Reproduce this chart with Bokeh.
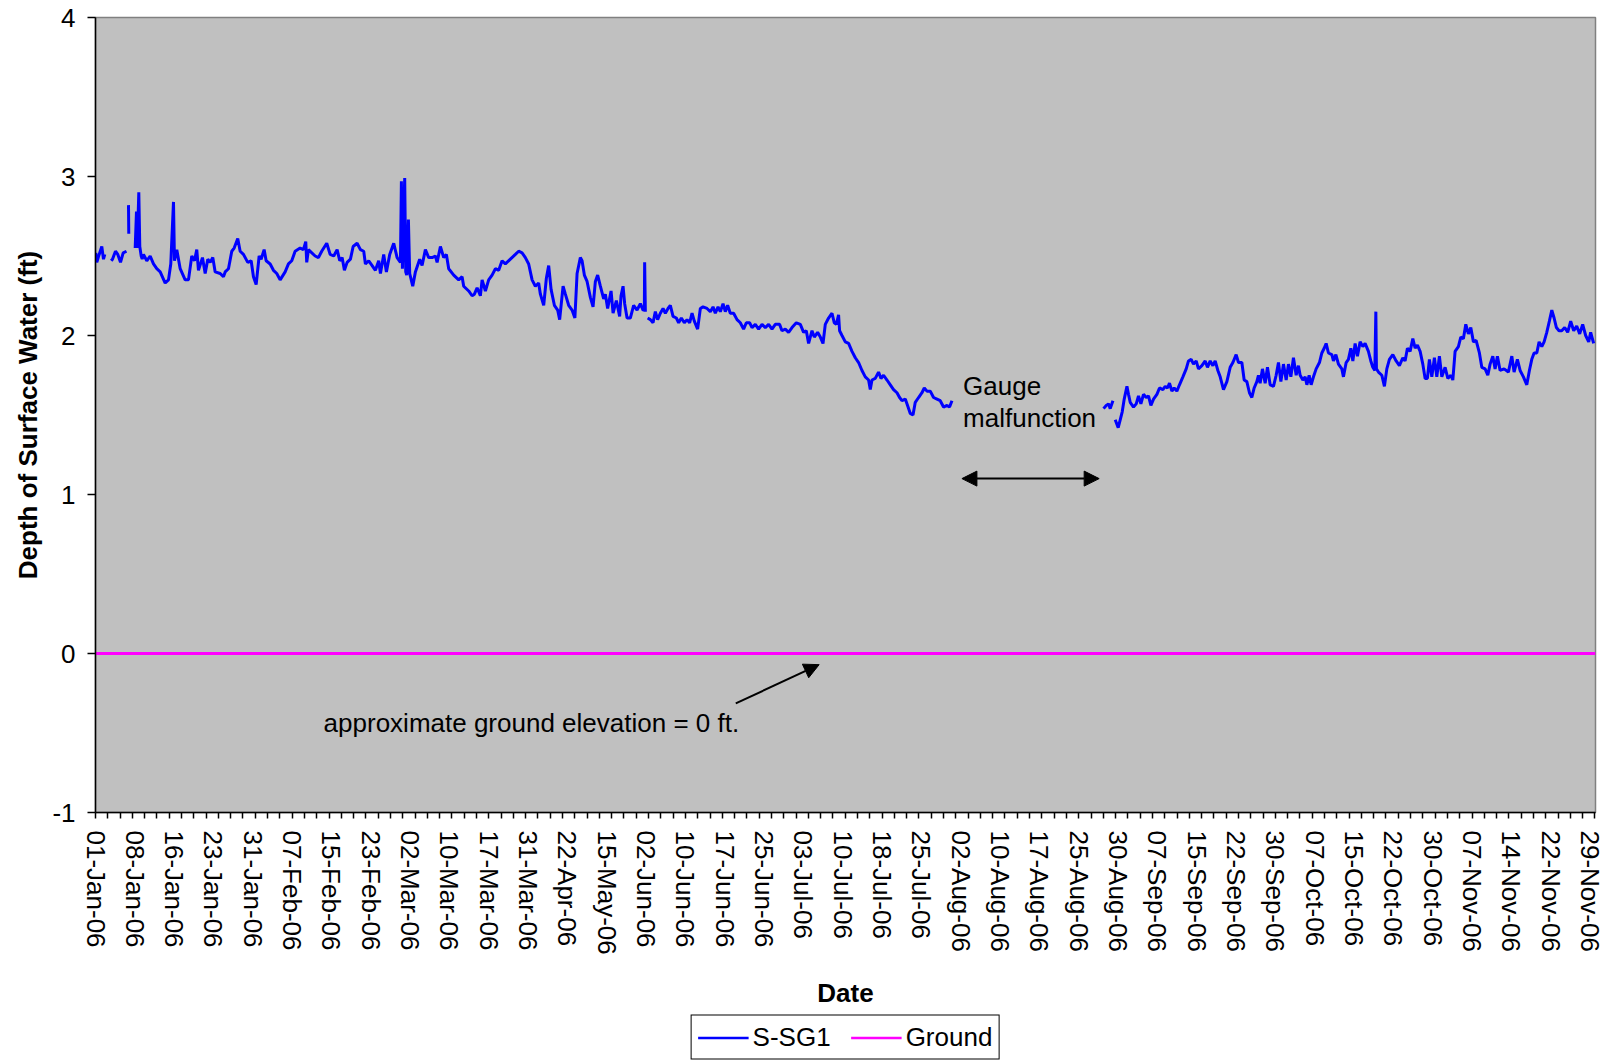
import math
from bokeh.plotting import figure
from bokeh.layouts import column
from bokeh.models import (Range1d, FixedTicker, Legend, LegendItem, Label,
                          Arrow, NormalHead)
from bokeh.embed import file_html
from bokeh.resources import INLINE

NAN = float("nan")

# Category-axis tick labels (one label every label-interval unit)
date_labels = ["01-Jan-06", "08-Jan-06", "16-Jan-06", "23-Jan-06", "31-Jan-06",
               "07-Feb-06", "15-Feb-06", "23-Feb-06", "02-Mar-06", "10-Mar-06",
               "17-Mar-06", "31-Mar-06", "22-Apr-06", "15-May-06", "02-Jun-06",
               "10-Jun-06", "17-Jun-06", "25-Jun-06", "03-Jul-06", "10-Jul-06",
               "18-Jul-06", "25-Jul-06", "02-Aug-06", "10-Aug-06", "17-Aug-06",
               "25-Aug-06", "30-Aug-06", "07-Sep-06", "15-Sep-06", "22-Sep-06",
               "30-Sep-06", "07-Oct-06", "15-Oct-06", "22-Oct-06", "30-Oct-06",
               "07-Nov-06", "14-Nov-06", "22-Nov-06", "29-Nov-06"]

# S-SG1 readings: (position on category axis, depth in ft); blanks = gaps
ssg1_seg1 = [(0.008, 2.52), (0.033, 2.46), (0.094, 2.51), (0.160, 2.56),
             (0.203, 2.48), (0.236, 2.51)]
ssg1_seg2 = [(0.399, 2.47), (0.432, 2.48), (0.508, 2.53), (0.567, 2.51),
             (0.636, 2.46), (0.704, 2.52), (0.788, 2.53)]
ssg1_seg3 = [(0.839, 2.82), (0.846, 2.64)]
ssg1_seg4 = [(1.009, 2.55), (1.042, 2.78), (1.060, 2.55), (1.101, 2.90), (1.126, 2.56),
             (1.162, 2.50), (1.187, 2.48), (1.220, 2.51), (1.304, 2.47), (1.390, 2.50),
             (1.474, 2.45), (1.558, 2.42), (1.645, 2.40), (1.772, 2.33), (1.856, 2.35),
             (1.914, 2.45), (1.983, 2.84), (2.008, 2.47), (2.067, 2.54), (2.153, 2.42),
             (2.280, 2.35), (2.364, 2.35), (2.448, 2.50), (2.517, 2.47), (2.575, 2.54),
             (2.618, 2.41), (2.720, 2.49), (2.789, 2.39), (2.855, 2.48), (2.916, 2.46),
             (2.982, 2.49), (3.043, 2.40), (3.170, 2.39), (3.254, 2.37), (3.297, 2.40),
             (3.381, 2.42), (3.465, 2.53), (3.526, 2.55), (3.617, 2.61), (3.678, 2.53),
             (3.762, 2.51), (3.871, 2.46), (3.958, 2.47), (4.016, 2.37), (4.085, 2.32),
             (4.161, 2.50), (4.212, 2.48), (4.288, 2.54), (4.339, 2.47), (4.441, 2.45),
             (4.525, 2.41), (4.609, 2.39), (4.695, 2.35), (4.822, 2.40), (4.906, 2.45),
             (4.990, 2.47), (5.076, 2.53), (5.203, 2.55), (5.287, 2.54), (5.346, 2.59),
             (5.371, 2.46), (5.414, 2.54), (5.585, 2.50), (5.669, 2.49), (5.752, 2.53),
             (5.880, 2.58), (5.966, 2.51), (6.058, 2.50), (6.144, 2.54), (6.210, 2.47),
             (6.271, 2.49), (6.329, 2.41), (6.398, 2.46), (6.482, 2.48), (6.551, 2.56),
             (6.652, 2.58), (6.736, 2.54), (6.820, 2.53), (6.863, 2.45), (6.947, 2.47),
             (7.034, 2.44), (7.117, 2.41), (7.201, 2.47), (7.245, 2.39), (7.328, 2.51),
             (7.397, 2.40), (7.481, 2.51), (7.583, 2.58), (7.669, 2.49), (7.753, 2.46),
             (7.778, 2.97), (7.804, 2.42), (7.862, 2.99), (7.888, 2.40), (7.913, 2.38),
             (7.956, 2.73), (7.989, 2.39), (8.066, 2.31), (8.134, 2.40), (8.243, 2.48),
             (8.304, 2.44), (8.388, 2.54), (8.472, 2.49), (8.559, 2.49), (8.643, 2.50),
             (8.686, 2.46), (8.770, 2.56), (8.854, 2.49), (8.922, 2.51), (8.981, 2.42),
             (9.108, 2.38), (9.235, 2.35), (9.321, 2.37), (9.362, 2.31), (9.489, 2.28),
             (9.575, 2.25), (9.634, 2.26), (9.703, 2.30), (9.786, 2.25), (9.830, 2.35),
             (9.914, 2.28), (9.997, 2.35), (10.084, 2.38), (10.168, 2.42), (10.252, 2.41),
             (10.338, 2.47), (10.422, 2.45), (10.549, 2.48), (10.676, 2.51), (10.760, 2.53),
             (10.846, 2.52), (10.930, 2.49), (11.014, 2.45), (11.101, 2.35), (11.184, 2.31),
             (11.268, 2.33), (11.312, 2.26), (11.396, 2.19), (11.464, 2.36), (11.523, 2.44),
             (11.584, 2.29), (11.668, 2.19), (11.751, 2.16), (11.802, 2.10), (11.889, 2.31),
             (11.947, 2.26), (12.031, 2.19), (12.117, 2.16), (12.189, 2.11), (12.245, 2.39),
             (12.328, 2.49), (12.372, 2.47), (12.430, 2.38), (12.499, 2.34), (12.583, 2.24),
             (12.651, 2.18), (12.710, 2.34), (12.768, 2.38), (12.837, 2.31), (12.921, 2.23),
             (12.964, 2.26), (13.022, 2.17), (13.109, 2.28), (13.160, 2.14), (13.244, 2.22),
             (13.327, 2.12), (13.363, 2.25), (13.414, 2.31), (13.455, 2.20), (13.516, 2.11),
             (13.599, 2.11), (13.683, 2.19), (13.770, 2.16), (13.854, 2.20), (13.922, 2.16),
             (13.955, 2.16), (13.963, 2.46), (13.981, 2.15)]
ssg1_seg5 = [(14.039, 2.11), (14.108, 2.10), (14.176, 2.08), (14.235, 2.15), (14.293, 2.10),
             (14.362, 2.14), (14.431, 2.17), (14.489, 2.14), (14.558, 2.17), (14.616, 2.19),
             (14.685, 2.12), (14.769, 2.11), (14.827, 2.08), (14.896, 2.11), (14.972, 2.08),
             (15.041, 2.10), (15.107, 2.08), (15.168, 2.14), (15.226, 2.09), (15.310, 2.04),
             (15.379, 2.17), (15.447, 2.18), (15.549, 2.17), (15.633, 2.15), (15.702, 2.18),
             (15.760, 2.14), (15.829, 2.18), (15.887, 2.15), (15.956, 2.20), (16.014, 2.15),
             (16.073, 2.19), (16.141, 2.14), (16.225, 2.14), (16.312, 2.10), (16.395, 2.08),
             (16.479, 2.04), (16.548, 2.08), (16.632, 2.08), (16.693, 2.05), (16.777, 2.07),
             (16.861, 2.04), (16.947, 2.07), (17.031, 2.05), (17.115, 2.07), (17.201, 2.04),
             (17.285, 2.07), (17.394, 2.07), (17.455, 2.03), (17.539, 2.04), (17.623, 2.02),
             (17.710, 2.05), (17.819, 2.08), (17.921, 2.07), (18.005, 2.02), (18.073, 2.03),
             (18.132, 1.95), (18.218, 2.03), (18.277, 1.99), (18.361, 2.02), (18.430, 1.99),
             (18.498, 1.95), (18.556, 2.07), (18.640, 2.11), (18.727, 2.14), (18.785, 2.08),
             (18.836, 2.07), (18.894, 2.13), (18.920, 2.03), (18.981, 2.00), (19.065, 1.96),
             (19.149, 1.95), (19.235, 1.90), (19.319, 1.86), (19.403, 1.83), (19.489, 1.78),
             (19.573, 1.74), (19.657, 1.72), (19.700, 1.66), (19.743, 1.72), (19.827, 1.73),
             (19.911, 1.77), (19.972, 1.73), (20.038, 1.75), (20.125, 1.72), (20.209, 1.69),
             (20.292, 1.66), (20.379, 1.64), (20.445, 1.61), (20.506, 1.59), (20.590, 1.60),
             (20.648, 1.56), (20.717, 1.51), (20.786, 1.50), (20.844, 1.58), (20.928, 1.61),
             (21.014, 1.64), (21.073, 1.67), (21.141, 1.65), (21.225, 1.65), (21.309, 1.61),
             (21.396, 1.60), (21.479, 1.59), (21.563, 1.55), (21.650, 1.56), (21.716, 1.55),
             (21.777, 1.59)]
ssg1_seg6 = [(25.631, 1.54), (25.699, 1.56), (25.758, 1.57), (25.801, 1.54), (25.870, 1.59)]
ssg1_seg7 = [(25.928, 1.47), (26.004, 1.42), (26.055, 1.47), (26.106, 1.52), (26.157, 1.60),
             (26.226, 1.68), (26.266, 1.63), (26.309, 1.58), (26.393, 1.55), (26.462, 1.57),
             (26.520, 1.62), (26.581, 1.57), (26.647, 1.63), (26.716, 1.61), (26.774, 1.62),
             (26.835, 1.56), (26.902, 1.60), (26.988, 1.63), (27.054, 1.67), (27.140, 1.66),
             (27.199, 1.68), (27.257, 1.67), (27.308, 1.70), (27.369, 1.65), (27.427, 1.67),
             (27.496, 1.65), (27.562, 1.69), (27.649, 1.74), (27.733, 1.79), (27.791, 1.84),
             (27.860, 1.85), (27.918, 1.82), (27.987, 1.84), (28.045, 1.79), (28.132, 1.81),
             (28.216, 1.84), (28.274, 1.80), (28.343, 1.84), (28.411, 1.81), (28.470, 1.84),
             (28.538, 1.78), (28.597, 1.74), (28.681, 1.66), (28.767, 1.71), (28.851, 1.80),
             (28.920, 1.83), (29.003, 1.88), (29.062, 1.83), (29.148, 1.83), (29.207, 1.72),
             (29.275, 1.71), (29.341, 1.64), (29.402, 1.61), (29.461, 1.67), (29.529, 1.71),
             (29.570, 1.75), (29.613, 1.70), (29.672, 1.79), (29.741, 1.70), (29.799, 1.80),
             (29.868, 1.69), (29.952, 1.68), (30.020, 1.75), (30.079, 1.83), (30.140, 1.71),
             (30.206, 1.82), (30.275, 1.72), (30.333, 1.82), (30.394, 1.74), (30.460, 1.86),
             (30.529, 1.75), (30.587, 1.81), (30.630, 1.75), (30.699, 1.72), (30.758, 1.74),
             (30.801, 1.69), (30.859, 1.75), (30.910, 1.69), (30.969, 1.74), (31.037, 1.79),
             (31.121, 1.83), (31.182, 1.89), (31.241, 1.92), (31.291, 1.95), (31.350, 1.89),
             (31.436, 1.88), (31.477, 1.84), (31.538, 1.88), (31.604, 1.82), (31.690, 1.79),
             (31.731, 1.74), (31.800, 1.83), (31.858, 1.85), (31.919, 1.92), (31.970, 1.84),
             (32.028, 1.95), (32.087, 1.87), (32.155, 1.96), (32.224, 1.93), (32.282, 1.95),
             (32.366, 1.90), (32.427, 1.84), (32.478, 1.80), (32.529, 1.78), (32.555, 2.15),
             (32.570, 1.79), (32.621, 1.77), (32.707, 1.75), (32.773, 1.68), (32.834, 1.79),
             (32.900, 1.85), (32.987, 1.88), (33.071, 1.84), (33.154, 1.81), (33.241, 1.86),
             (33.299, 1.84), (33.358, 1.92), (33.426, 1.90), (33.495, 1.98), (33.554, 1.92),
             (33.612, 1.94), (33.681, 1.90), (33.749, 1.82), (33.808, 1.73), (33.866, 1.73),
             (33.917, 1.85), (33.978, 1.74), (34.044, 1.86), (34.105, 1.74), (34.171, 1.87),
             (34.232, 1.74), (34.316, 1.80), (34.385, 1.73), (34.461, 1.75), (34.512, 1.72),
             (34.570, 1.90), (34.654, 1.93), (34.715, 1.99), (34.781, 1.98), (34.842, 2.07),
             (34.908, 2.01), (34.969, 2.05), (35.036, 1.96), (35.104, 1.97), (35.188, 1.89),
             (35.249, 1.80), (35.333, 1.79), (35.402, 1.75), (35.460, 1.82), (35.529, 1.87),
             (35.587, 1.79), (35.646, 1.87), (35.714, 1.78), (35.816, 1.79), (35.925, 1.77),
             (36.012, 1.87), (36.070, 1.77), (36.154, 1.85), (36.223, 1.78), (36.307, 1.74),
             (36.393, 1.69), (36.459, 1.78), (36.520, 1.85), (36.579, 1.89), (36.647, 1.89),
             (36.706, 1.96), (36.774, 1.93), (36.833, 1.96), (36.901, 2.02), (36.967, 2.09),
             (37.029, 2.16), (37.087, 2.11), (37.146, 2.05), (37.212, 2.03), (37.281, 2.03),
             (37.357, 2.05), (37.433, 2.02), (37.509, 2.09), (37.586, 2.03), (37.662, 2.06),
             (37.738, 2.01), (37.814, 2.07), (37.890, 2.00), (37.967, 1.96), (38.017, 2.02),
             (38.093, 1.95)]

# Ground series (constant 0 ft across the whole record)
ground_pos = [0.0, 38.14]
ground_depth = [0.0, 0.0]

# y axis ticks
depth_ticks = [-1, 0, 1, 2, 3, 4]

segments = [ssg1_seg1, ssg1_seg2, ssg1_seg3, ssg1_seg4, ssg1_seg5, ssg1_seg6, ssg1_seg7]
obs_pos, depth = [], []
for i, seg in enumerate(segments):
    if i:
        obs_pos.append(NAN)
        depth.append(NAN)
    for x, y in seg:
        obs_pos.append(x)
        depth.append(y)

FONT = "Liberation Sans"
FS = "26px"
BLUE = "#0000FF"
MAGENTA = "#FF00FF"

p = figure(frame_width=1500, frame_height=795,
           min_border_left=95, min_border_right=12, min_border_top=17,
           min_border_bottom=202,
           x_range=Range1d(0, 38.14), y_range=Range1d(-1, 4),
           output_backend="svg", toolbar_location=None,
           background_fill_color="#C0C0C0", border_fill_color="white",
           outline_line_color="#808080", outline_line_width=1.5)
p.xgrid.visible = False
p.ygrid.visible = False

r_ground = p.line(ground_pos, ground_depth, line_color=MAGENTA, line_width=3)
r_obs = p.line(obs_pos, depth, line_color=BLUE, line_width=3)

# x axis (category style)
xa = p.xaxis[0]
minor_pos = [k * 0.3125 for k in range(123)]
xa.ticker = FixedTicker(ticks=list(range(len(date_labels))), minor_ticks=minor_pos)
xa.major_label_overrides = {i: lab for i, lab in enumerate(date_labels)}
xa.major_label_orientation = "vertical"
xa.major_tick_out = 0
xa.major_tick_in = 0
xa.minor_tick_out = 6
xa.minor_tick_in = 0
xa.minor_tick_line_color = "black"
xa.minor_tick_line_width = 1.5
xa.major_label_standoff = 12
xa.axis_line_color = "black"
xa.axis_line_width = 1.5
xa.major_label_text_font = FONT
xa.major_label_text_font_size = FS
xa.major_label_text_color = "black"
xa.axis_label = "Date"
xa.axis_label_text_font = FONT
xa.axis_label_text_font_size = FS
xa.axis_label_text_font_style = "bold"
xa.axis_label_text_color = "black"
xa.axis_label_standoff = 20

ya = p.yaxis[0]
ya.ticker = FixedTicker(ticks=depth_ticks)
ya.major_label_overrides = {t: str(t) for t in depth_ticks}
ya.major_tick_out = 8
ya.major_tick_in = 0
ya.minor_tick_out = 0
ya.minor_tick_in = 0
ya.major_tick_line_color = "black"
ya.major_tick_line_width = 1.5
ya.major_label_standoff = 12
ya.axis_line_color = "black"
ya.axis_line_width = 1.5
ya.major_label_text_font = FONT
ya.major_label_text_font_size = FS
ya.major_label_text_color = "black"
ya.axis_label = "Depth of Surface Water (ft)"
ya.axis_label_text_font = FONT
ya.axis_label_text_font_size = FS
ya.axis_label_text_font_style = "bold"
ya.axis_label_text_color = "black"
ya.axis_label_standoff = 6

# Annotations
for txt, yy in (("Gauge", 1.683), ("malfunction", 1.484)):
    p.add_layout(Label(x=22.06, y=yy, text=txt, text_font=FONT, text_font_size=FS,
                       text_align="left", text_baseline="middle", text_color="black"))
p.add_layout(Label(x=5.80, y=-0.436, text="approximate ground elevation = 0 ft.",
                   text_font=FONT, text_font_size=FS, text_align="left",
                   text_baseline="middle", text_color="black"))
p.add_layout(Arrow(x_start=22.03, y_start=1.10, x_end=25.52, y_end=1.10,
                   line_width=2, line_color="black",
                   start=NormalHead(size=15, fill_color="black", line_color="black"),
                   end=NormalHead(size=15, fill_color="black", line_color="black")))
p.add_layout(Arrow(x_start=16.28, y_start=-0.314, x_end=18.40, y_end=-0.07,
                   line_width=2, line_color="black",
                   end=NormalHead(size=15, fill_color="black", line_color="black")))

# Legend strip below the chart: a small companion figure whose (off-view) copies of
# the two series provide the legend keys, so the legend sits inside a frame.
leg = figure(width=1607, height=46, x_range=Range1d(0, 38.14), y_range=Range1d(10, 11),
             x_axis_location=None, y_axis_location=None,
             min_border_left=90, min_border_right=0, min_border_top=0, min_border_bottom=0,
             output_backend="svg", toolbar_location=None,
             background_fill_color="white", border_fill_color="white",
             outline_line_color=None)
leg.xgrid.visible = False
leg.ygrid.visible = False
k_obs = leg.line(obs_pos, depth, line_color=BLUE, line_width=2.5)
k_ground = leg.line(ground_pos, ground_depth, line_color=MAGENTA, line_width=2.5)
legend = Legend(items=[LegendItem(label="S-SG1", renderers=[k_obs]),
                       LegendItem(label="Ground", renderers=[k_ground])],
                orientation="horizontal", location="center",
                padding=6, spacing=20, margin=0, glyph_width=51, glyph_height=20,
                label_standoff=4, label_text_font=FONT, label_text_font_size=FS,
                label_text_color="black", border_line_color="black",
                border_line_alpha=1.0, border_line_width=1.5,
                background_fill_color="white", background_fill_alpha=1.0)
leg.add_layout(legend, "center")

layout = column(p, leg, spacing=0)
open("out.html", "w").write(file_html(layout, INLINE))
